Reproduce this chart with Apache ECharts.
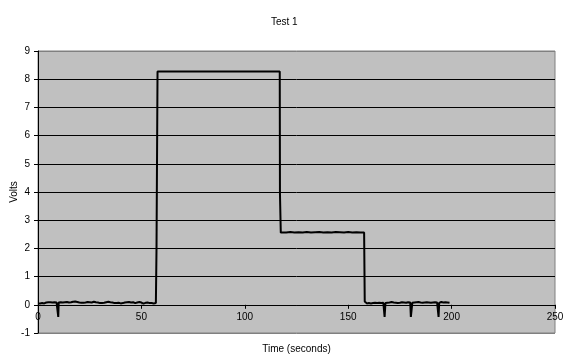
<!DOCTYPE html>
<html>
<head>
<meta charset="utf-8">
<script src="https://cdn.jsdelivr.net/npm/echarts@6/dist/echarts.min.js"></script>
<style>html,body{margin:0;padding:0;background:#fff;}#c{width:574px;height:363px;}</style>
</head>
<body>
<div id="c"></div>
<script>
var titleText = "Test 1";
var xName = "Time (seconds)";
var yName = "Volts";
var xTicks = [0, 50, 100, 150, 200, 250];
var yTicks = [-1, 0, 1, 2, 3, 4, 5, 6, 7, 8, 9];

// Time (s) and voltage readings
var times = [
  0,1,2,3,4,5,6,7,8,9,9.8,10,11,12,13,14,15,16,17,18,19,20,21,22,23,24,25,26,27,28,29,30,
  31,32,33,34,35,36,37,38,39,40,41,42,43,44,45,46,47,48,49,50,51,52,53,54,55,56,57,57.3,57.8,
  60,65,70,75,80,85,90,95,100,105,110,115,116.9,117,117.4,
  118,120,122,124,126,128,130,132,134,136,138,140,142,144,146,148,150,152,154,156,157.7,158,158.5,
  159,160,161,162,163,164,165,166,167,167.6,168,169,170,171,172,173,174,175,176,177,178,179,180,180.3,
  181,182,183,184,185,186,187,188,189,190,191,192,193,193.7,194,195,196,197,198,199
];
var volts = [
  0.05,0.05,0.06,0.05,0.08,0.09,0.09,0.08,0.09,0.08,-0.43,0.08,0.09,0.08,0.09,0.1,0.08,0.09,0.11,0.12,0.1,0.08,0.07,0.07,0.08,0.1,0.09,0.08,0.11,0.09,0.08,0.06,
  0.06,0.07,0.09,0.11,0.09,0.08,0.06,0.06,0.07,0.05,0.06,0.08,0.09,0.1,0.08,0.09,0.06,0.08,0.1,0.08,0.04,0.07,0.08,0.06,0.06,0.05,0.06,1.95,8.27,
  8.27,8.27,8.27,8.27,8.27,8.27,8.27,8.27,8.27,8.27,8.27,8.27,8.27,3.94,2.56,
  2.57,2.56,2.58,2.56,2.57,2.56,2.58,2.56,2.57,2.58,2.56,2.57,2.56,2.58,2.57,2.56,2.58,2.56,2.57,2.56,2.56,0.12,0.05,
  0.05,0.06,0.05,0.06,0.07,0.06,0.07,0.06,0.07,-0.43,0.06,0.07,0.08,0.1,0.08,0.07,0.06,0.07,0.09,0.08,0.07,0.09,0.08,-0.43,
  0.07,0.08,0.09,0.1,0.08,0.07,0.08,0.09,0.08,0.07,0.08,0.09,0.08,-0.43,0.07,0.1,0.08,0.09,0.08,0.07
];

var seriesData = times.map(function (t, i) { return [t, volts[i]]; });

var splitColors = yTicks.map(function (v, i) {
  return (i === 0 || i === yTicks.length - 1) ? '#808080' : '#000000';
});

var gridTop = 51, gridBottom = 30, chartH = 363;
var plotH = chartH - gridTop - gridBottom;
// shift the x axis up so it sits at y = 0
var zeroOffset = -plotH * (0 - yTicks[0]) / (yTicks[yTicks.length - 1] - yTicks[0]);

var chart = echarts.init(document.getElementById('c'), null, {renderer: 'canvas'});
chart.setOption({
  animation: false,
  backgroundColor: '#ffffff',
  textStyle: {fontFamily: 'Liberation Sans, Arial, sans-serif'},
  title: {
    text: titleText,
    left: 271,
    top: 17,
    padding: 0,
    textStyle: {fontSize: 10, fontWeight: 'normal', color: '#000', fontFamily: 'Liberation Sans, Arial, sans-serif'}
  },
  grid: {
    left: 38, right: 19, top: gridTop, bottom: gridBottom,
    containLabel: false, outerBoundsMode: 'none',
    show: true, backgroundColor: '#C0C0C0', borderColor: '#808080', borderWidth: 1
  },
  xAxis: {
    type: 'value',
    min: xTicks[0], max: xTicks[xTicks.length - 1], interval: xTicks[1] - xTicks[0],
    offset: zeroOffset,
    name: xName, nameLocation: 'middle', nameGap: 39,
    nameTextStyle: {fontSize: 10, color: '#000'},
    axisLine: {show: true, onZero: false, lineStyle: {color: '#000', width: 1}},
    axisTick: {show: true, length: 4, lineStyle: {color: '#000'}},
    axisLabel: {fontSize: 10, color: '#000', margin: 7},
    splitLine: {show: false}
  },
  yAxis: {
    type: 'value',
    min: yTicks[0], max: yTicks[yTicks.length - 1], interval: 1,
    name: yName, nameLocation: 'middle', nameGap: 19, nameRotate: 90,
    nameMoveOverlap: false,
    nameTextStyle: {fontSize: 10, color: '#000'},
    axisLine: {show: true, onZero: false, lineStyle: {color: '#000', width: 1}},
    axisTick: {show: true, length: 4, lineStyle: {color: '#000'}},
    axisLabel: {fontSize: 10, color: '#000', margin: 8},
    splitLine: {show: true, lineStyle: {color: splitColors, width: 1}}
  },
  series: [{
    type: 'line',
    data: seriesData,
    showSymbol: false,
    symbol: 'none',
    lineStyle: {color: '#000', width: 2},
    z: 3
  }]
});
</script>
</body>
</html>
